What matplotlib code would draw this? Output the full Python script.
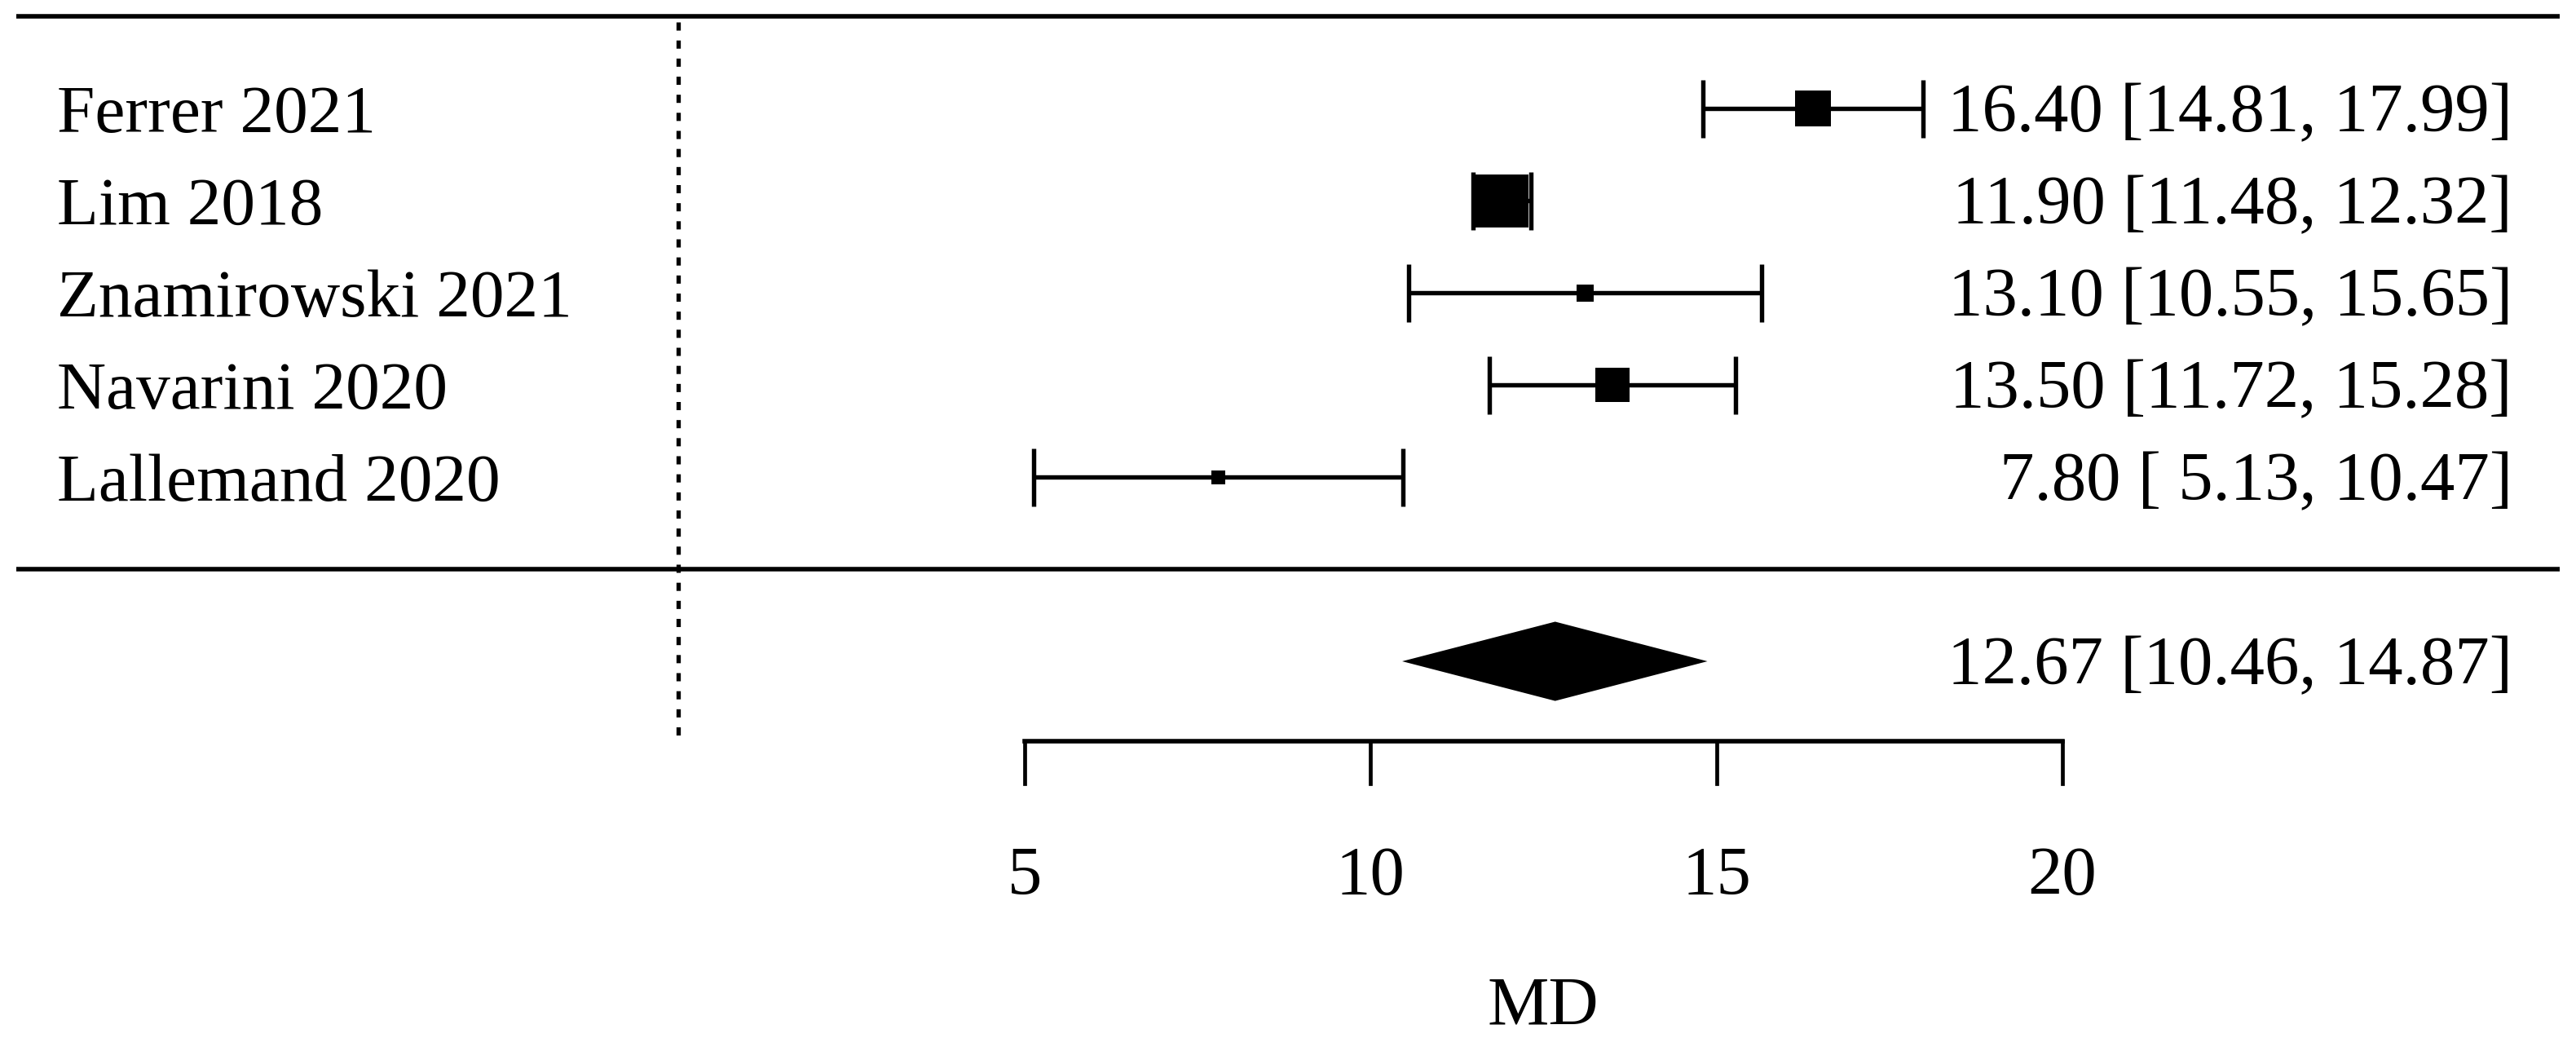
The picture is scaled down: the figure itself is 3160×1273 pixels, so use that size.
import matplotlib
matplotlib.use("Agg")
import matplotlib.pyplot as plt
from matplotlib.patches import Polygon

# study data (mean difference with 95% CI)
studies = ["Ferrer 2021", "Lim 2018", "Znamirowski 2021", "Navarini 2020", "Lallemand 2020"]
md = [16.40, 11.90, 13.10, 13.50, 7.80]
ci_low = [14.81, 11.48, 10.55, 11.72, 5.13]
ci_high = [17.99, 12.32, 15.65, 15.28, 10.47]

# pooled estimate
pooled_md = 12.67
pooled_low = 10.46
pooled_high = 14.87

xticks = [5, 10, 15, 20]
xlabel = "MD"

# box side length in pixels
box_px = [44, 65, 21, 42, 17]

plt.rcParams["font.family"] = ["Liberation Serif", "DejaVu Serif"]
FS = 61
DPI = 100
pt = 72.0 / DPI  # points per pixel

fig = plt.figure(figsize=(31.6, 12.73), dpi=DPI)
ax = fig.add_axes([0, 0, 1, 1])
ax.set_xlim(-9.80, 27.42)
ax.set_ylim(-5.09, 6.18)
ax.axis("off")

rows = list(range(len(studies), 0, -1))

# frame lines
ax.plot([-9.56, 27.18], [6.0, 6.0], color="black", lw=4.0, solid_capstyle="butt")
ax.plot([-9.56, 27.18], [0.0, 0.0], color="black", lw=4.0, solid_capstyle="butt")

# reference line at 0
ax.plot([0, 0], [5.94, -1.87], color="black", lw=3.8, dashes=(1.9, 2.3))

# study rows
for y, name, m, lo, hi, b in zip(rows, studies, md, ci_low, ci_high, box_px):
    ax.errorbar(m, y, xerr=[[m - lo], [hi - m]], fmt="none", ecolor="black",
                elinewidth=3.9, capsize=71 * pt / 2, capthick=3.9, zorder=2)
    ax.plot(m, y, marker="s", color="black", markersize=b * pt, mew=0, zorder=3)
    ax.text(-8.98, y - 0.25, name, fontsize=FS - 1, ha="left", va="baseline")
    ax.text(26.50, y - 0.25, f"{m:.2f} [{lo:5.2f}, {hi:5.2f}]",
            fontsize=FS, ha="right", va="baseline")

# pooled diamond
h = 0.43
diamond = Polygon([(pooled_low, -1), (pooled_md, -1 + h), (pooled_high, -1), (pooled_md, -1 - h)],
                  closed=True, facecolor="black", edgecolor="black", lw=0)
ax.add_patch(diamond)
ax.text(26.50, -1 - 0.25, f"{pooled_md:.2f} [{pooled_low:.2f}, {pooled_high:.2f}]",
        fontsize=FS, ha="right", va="baseline")

# x axis
ax.plot([xticks[0], xticks[-1]], [-1.87, -1.87], color="black", lw=4.0, solid_capstyle="projecting")
for t in xticks:
    ax.plot([t, t], [-1.87, -2.33], color="black", lw=3.4)
    ax.text(t, -3.53, str(t), fontsize=FS, ha="center", va="baseline")
ax.text((xticks[0] + xticks[-1]) / 2, -4.94, xlabel, fontsize=FS, ha="center", va="baseline")

fig.savefig("out.png", dpi=DPI, facecolor="white")
